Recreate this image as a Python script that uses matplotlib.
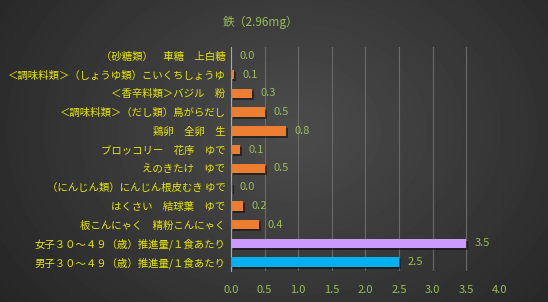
import matplotlib
matplotlib.use("Agg")
import matplotlib.pyplot as plt
import matplotlib.patheffects as pe
import numpy as np

plt.rcParams['font.family'] = ['Noto Sans CJK JP', 'DejaVu Sans']

# Data (top to bottom as shown)
labels = ['（砂糖類）　車糖　上白糖',
          '＜調味料類＞（しょうゆ類）こいくちしょうゆ',
          '＜香辛料類＞バジル　粉',
          '＜調味料類＞（だし類）鳥がらだし',
          '鶏卵　全卵　生',
          'ブロッコリー　花序　ゆで',
          'えのきたけ　ゆで',
          '（にんじん類）にんじん根皮むき ゆで',
          'はくさい　結球葉　ゆで',
          '板こんにゃく　精粉こんにゃく',
          '女子３０～４９（歳）推進量/１食あたり',
          '男子３０～４９（歳）推進量/１食あたり']
values = [0.004, 0.05, 0.31, 0.51, 0.82, 0.13, 0.51, 0.01, 0.18, 0.42, 3.5, 2.5]
value_text = ['0.0', '0.1', '0.3', '0.5', '0.8', '0.1', '0.5', '0.0', '0.2', '0.4', '3.5', '2.5']
colors = ['#ed7d31'] * 10 + ['#cc99ff', '#00b0f0']
xticks = [0.0, 0.5, 1.0, 1.5, 2.0, 2.5, 3.0, 3.5, 4.0]
title = '鉄（2.96mg）'

green = '#9bbb59'
yellow = '#e6e600'

fig = plt.figure(figsize=(5.48, 3.02), dpi=100)

# radial gradient background
bg = fig.add_axes([0, 0, 1, 1], zorder=-5)
yy, xx = np.mgrid[0:302, 0:548]
r = np.sqrt(((xx - 290) / 330.0) ** 2 + ((yy - 130) / 260.0) ** 2)
shade = np.clip(0.30 - 0.14 * r, 0.14, 0.30)
bg.imshow(shade, cmap='gray', vmin=0, vmax=1, aspect='auto', extent=[0, 1, 0, 1])
bg.axis('off')

ax = fig.add_axes([0.4215, 0.1013, 0.9124 - 0.4215, 0.8457 - 0.1013])
ax.patch.set_alpha(0)

y = np.arange(len(labels))
bars = ax.barh(y, values, height=0.5, color=colors, zorder=3,
               path_effects=[pe.SimplePatchShadow(offset=(1.5, -1.5), shadow_rgbFace='black', alpha=0.45),
                             pe.Normal()])

for yi, v, t in zip(y, values, value_text):
    ax.annotate(t, (v, yi), xytext=(6, 0), textcoords='offset points',
                va='center', ha='left', color=green, fontsize=8)

ax.set_xlim(0, 4.0)
ax.set_ylim(len(labels) - 0.5, -0.5)
ax.set_xticks(xticks)
ax.set_xticklabels([f'{t:.1f}' for t in xticks], color=green, fontsize=8)
ax.set_yticks(y)
ax.set_yticklabels(labels, color=yellow, fontsize=7.5)
ax.tick_params(axis='both', length=0)
ax.tick_params(axis='x', pad=10)
ax.tick_params(axis='y', pad=4)

ax.xaxis.grid(True, color='#6a6a6a', linewidth=0.8, zorder=0)
ax.set_axisbelow(True)
for s in ['top', 'right', 'bottom']:
    ax.spines[s].set_visible(False)
ax.spines['left'].set_color('#a8a8a8')
ax.spines['left'].set_linewidth(0.8)

fig.text(0.475, 0.925, title, color=green, fontsize=8.5, ha='center', va='center')

fig.savefig('out.png', dpi=100)
